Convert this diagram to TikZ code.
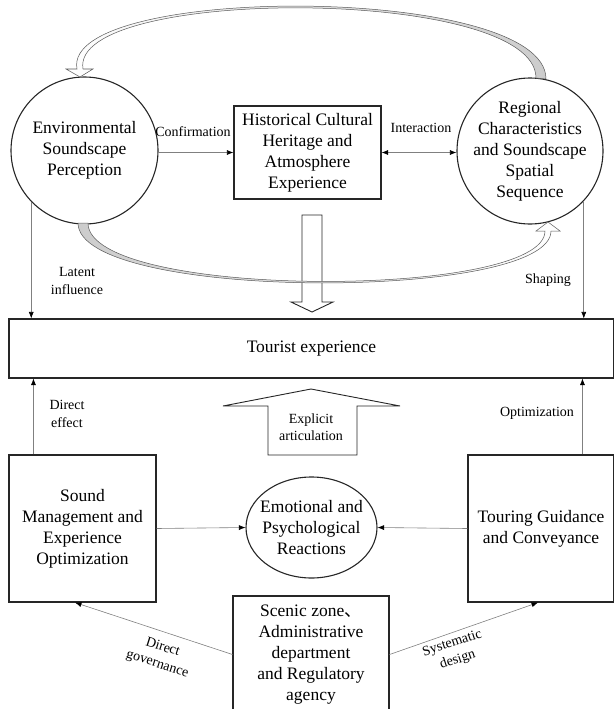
\documentclass[tikz,border=0pt]{standalone}
\usepackage{fontspec}
\setmainfont{Liberation Serif}
\newfontfamily\cjkfont{Noto Sans CJK SC}
\usetikzlibrary{arrows.meta,shapes.geometric}

\begin{document}
\begin{tikzpicture}[x=1pt,y=-1pt,
  shapeline/.style={draw=black!85,line width=1.1pt},
  boxnode/.style={shapeline,rectangle,inner sep=0pt,align=center,
    font=\fontsize{17.5}{21}\selectfont},
  txt/.style={align=center,inner sep=0pt,font=\fontsize{17.5}{21}\selectfont},
  lbl/.style={align=center,inner sep=0pt,font=\fontsize{14}{17.5}\selectfont},
  conn/.style={draw=black!50,line width=0.6pt,
    -{Latex[length=6.5pt,width=5pt,color=black]}},
  conntwo/.style={draw=black!50,line width=0.6pt,
    {Latex[length=6.5pt,width=5pt,color=black]}-{Latex[length=6.5pt,width=5pt,color=black]}},
  blockarrow/.style={draw=black!85,line width=0.9pt,fill=white,line join=miter},
  bandarrow/.style={draw=black!65,line width=0.5pt}]

\useasboundingbox (0,0) rectangle (613,709);

% ---------- top row ----------
\node[circle,shapeline,minimum size=147pt,inner sep=0pt] (envc) at (84.5,150.5) {};
\node[txt] at (envc) {Environmental\\Soundscape\\Perception};

\node[boxnode,minimum width=147pt,minimum height=93pt] (heritage) at (307.5,152.5)
  {Historical Cultural\\Heritage and\\Atmosphere\\Experience};

\node[circle,shapeline,minimum size=146pt,inner sep=0pt] (regc) at (530,151) {};
\node[txt] at (regc) {Regional\\Characteristics\\and Soundscape\\Spatial\\Sequence};

% ---------- central band ----------
\node[boxnode,minimum width=605pt,minimum height=59pt] (tour) at (311.5,348.5)
  {Tourist experience};

% ---------- lower row ----------
\node[boxnode,minimum width=147pt,minimum height=147pt] (sound) at (82.5,528.5)
  {Sound\\Management and\\Experience\\Optimization};

\node[ellipse,shapeline,minimum width=131pt,minimum height=101pt,inner sep=0pt] (emo) at (311.5,527.5) {};
\node[txt] at (emo) {Emotional and\\Psychological\\Reactions};

\node[boxnode,minimum width=146pt,minimum height=147pt] (touring) at (541,528.5)
  {Touring Guidance\\and Conveyance};

\node[boxnode,minimum width=156pt,minimum height=117pt] (scenic) at (311,654.5)
  {Scenic zone{\cjkfont 、}\\Administrative\\department\\and Regulatory\\agency};

% ---------- connectors ----------
\draw[conn] (heritage.west -| envc.east) -- (heritage.west);
\node[lbl] (lconf) at (193,132) {Confirmation};

\draw[conntwo] (heritage.east) -- (heritage.east -| regc.west);
\node[lbl] (linter) at (421,128) {Interaction};

\coordinate (latentTop) at (envc.224.4);
\draw[conn] (latentTop) -- (latentTop |- tour.north);
\node[lbl] (llatent) at (77,281) {Latent\\influence};

\coordinate (shapeTop) at (regc.-43.4);
\draw[conn] (shapeTop) -- (shapeTop |- tour.north);
\node[lbl] (lshape) at (548,280) {Shaping};

\coordinate (effectFoot) at ([xshift=25pt]sound.north west);
\draw[conn] (effectFoot) -- (effectFoot |- tour.south);
\node[lbl] (leffect) at (67,414) {Direct\\effect};

\coordinate (optFoot) at ([xshift=115pt]touring.north west);
\draw[conn] (optFoot) -- (optFoot |- tour.south);
\node[lbl] (lopt) at (537,413) {Optimization};

\draw[conn] (sound.east) -- (emo.west);
\draw[conn] (touring.west) -- (emo.east);

\coordinate (govEnd) at ([xshift=-7.5pt]sound.south);
\draw[conn] (scenic.west) -- (govEnd);
\node[lbl,rotate=-17.6] (lgov) at (160,656) {Direct\\governance};

\coordinate (sysEnd) at ([xshift=-3pt]touring.south);
\draw[conn] (scenic.east) -- (sysEnd);
\node[lbl,rotate=18.2] (lsys) at (455,652) {Systematic\\design};

% ---------- hollow block arrows ----------
\path[blockarrow] (302,215) -- (322,215) -- (322,302) -- (333,302) -- (312,312)
  -- (291,302) -- (302,302) -- cycle;

\path[blockarrow] (268,455) -- (268,406) -- (223,406) -- (311,389) -- (400,406)
  -- (357,406) -- (357,455) -- cycle;
\node[lbl] (lexpl) at (311,427) {Explicit\\articulation};

% ---------- curved tapered arrows between the circles ----------
\path[bandarrow,left color=white,right color=black!20]
  (546,79) .. controls (546,-16.5) and (61,-16.5) .. (77,69)
  -- (66,69) -- (80,77) -- (93,69) -- (83,69)
  .. controls (69,-14) and (536,-14) .. (536,78) -- cycle;

\path[bandarrow,left color=black!20,right color=white]
  (78,223) .. controls (78,301.5) and (551,301.5) .. (551,231)
  -- (560,231) -- (548,222) -- (536,231) -- (545,231)
  .. controls (545,299.5) and (88,299.5) .. (88,223) -- cycle;

\end{tikzpicture}
\end{document}
